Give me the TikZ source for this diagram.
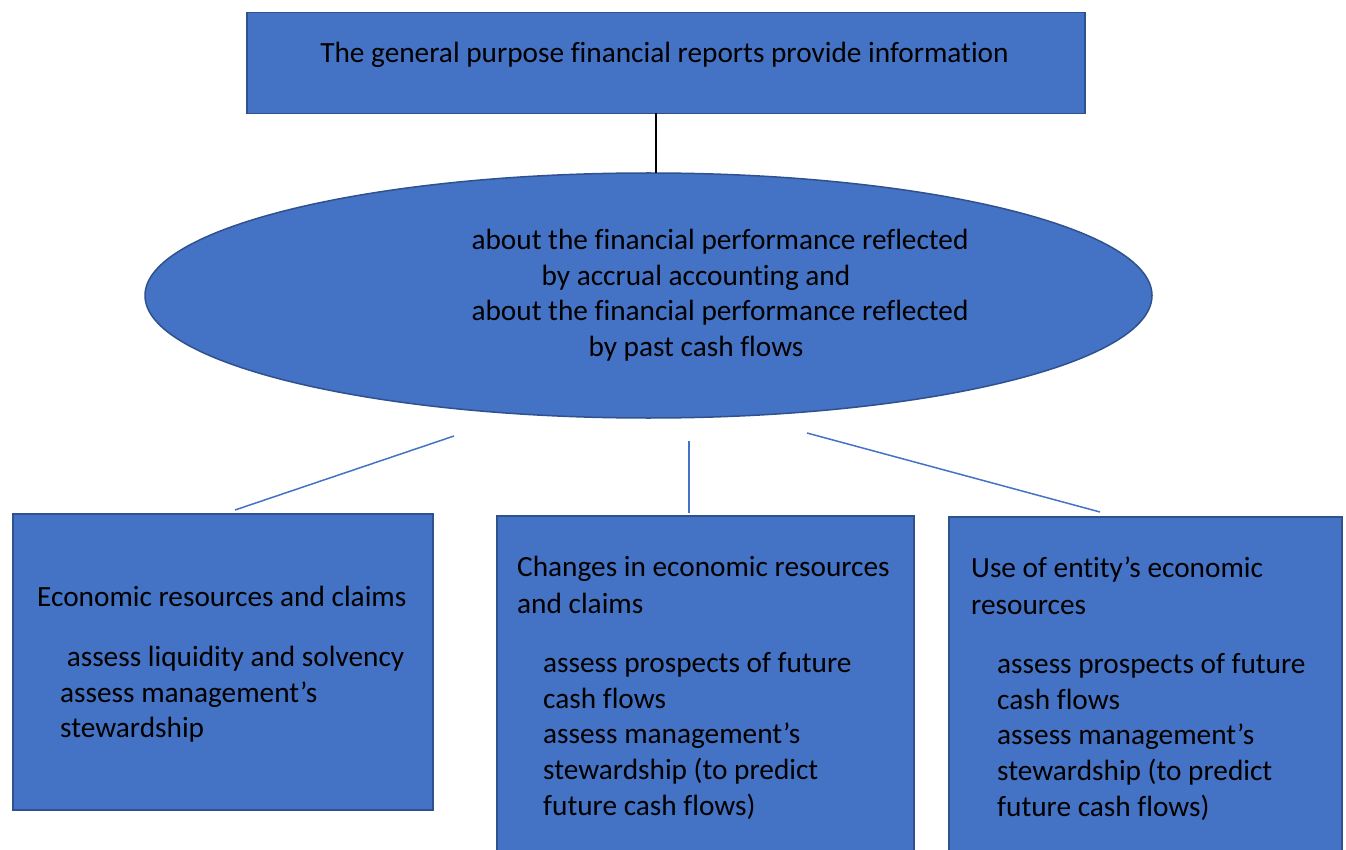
\documentclass[tikz,border=0pt]{standalone}
\usepackage{fontspec}
\setmainfont{Carlito}[Ligatures={NoCommon}]
\usetikzlibrary{shapes.geometric}
\definecolor{boxfill}{HTML}{4472C4}
\definecolor{boxline}{HTML}{2F528F}
\tikzset{
  bluebox/.style={draw=boxline, fill=boxfill, line width=1.5pt, inner sep=0pt, anchor=north west},
  txt/.style={inner sep=0pt, font=\fontsize{29.3pt}{35.8pt}\selectfont, text=black},
  txtblock/.style={txt, align=left, anchor=north west},
  titleblock/.style={txtblock, font=\fontsize{29.3pt}{37.5pt}\selectfont},
  bluelink/.style={draw=boxfill, line width=1.5pt},
  blacklink/.style={draw=black, line width=1.5pt}
}
\begin{document}
\begin{tikzpicture}[x=1pt, y=-1pt]
\useasboundingbox (0,0) rectangle (1346,850);
% top box
\node[bluebox, minimum width=838pt, minimum height=101pt] (top) at (246,12) {};
\node[txt, anchor=base] (toptxt) at (664.5,62.5) {The general purpose financial reports provide information};
% ellipse
\node[ellipse, draw=boxline, fill=boxfill, line width=1.5pt, inner sep=0pt,
      minimum width=1007pt, minimum height=245pt] (ell) at (648.5,295.5) {};
\node[txt, align=center, anchor=north] (elltxt) at (696,224)
  {\strut\hspace*{48pt}about the financial performance reflected\\
   by accrual accounting and\\
   \hspace*{48pt}about the financial performance reflected\\
   by past cash flows};
% connector top -> ellipse
\coordinate (c0a) at (656,113);
\coordinate (c0b) at (656,173);
\draw[blacklink] (c0a) -- (c0b);
% bottom boxes
\node[bluebox, minimum width=420pt, minimum height=296pt] (b1) at (12,513) {};
\node[bluebox, minimum width=417pt, minimum height=345pt] (b2) at (496,515) {};
\node[bluebox, minimum width=393pt, minimum height=345pt] (b3) at (948,516) {};
% texts box 1
\node[txtblock] (b1t) at (37,581) {\strut Economic resources and claims};
\node[txtblock] (b1b) at (60,641) {\strut\hspace*{6.6pt}assess liquidity and solvency\\assess management’s\\stewardship};
% texts box 2
\node[titleblock] (b2t) at (517,550) {\strut Changes in economic resources\\and claims};
\node[txtblock] (b2b) at (543,647) {\strut assess prospects of future\\cash flows\\assess management’s\\stewardship (to predict\\future cash flows)};
% texts box 3
\node[titleblock] (b3t) at (971,551) {\strut Use of entity’s economic\\resources};
\node[txtblock] (b3b) at (997,648) {\strut assess prospects of future\\cash flows\\assess management’s\\stewardship (to predict\\future cash flows)};
% connectors ellipse -> boxes
\coordinate (l1a) at (454,436);
\coordinate (l1b) at (235,510);
\coordinate (l2a) at (689,441);
\coordinate (l2b) at (689,513);
\coordinate (l3a) at (807,433);
\coordinate (l3b) at (1100,512);
\draw[bluelink] (l1a) -- (l1b);
\draw[bluelink] (l2a) -- (l2b);
\draw[bluelink] (l3a) -- (l3b);
\end{tikzpicture}
\end{document}
